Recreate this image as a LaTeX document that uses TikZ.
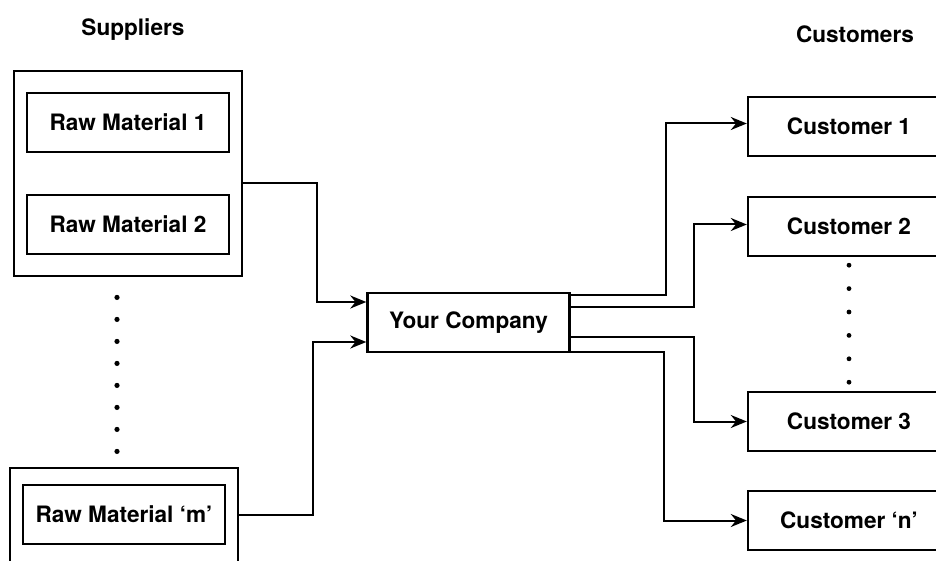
\documentclass[tikz,border=0pt]{standalone}
\usepackage{fontspec}
\setmainfont{TeX Gyre Heros}
\usetikzlibrary{positioning,fit,arrows.meta,calc}

\begin{document}
\begin{tikzpicture}[
    x=0.5pt, y=-0.5pt,
    font=\fontsize{11.3}{13}\selectfont\bfseries,
    box/.style={
        draw,
        line width=1.2pt,
        minimum width=101pt,
        minimum height=29.5pt,
        align=center
    },
    group/.style={draw, line width=1.2pt, inner xsep=6pt, inner ysep=10.5pt},
    arrow/.style={-{Stealth[length=8pt,width=6.5pt]}, line width=1pt},
    dot/.style={fill=black}
]
\useasboundingbox (0,0) rectangle (936,561);

% suppliers
\node[box] (rm1) at (128,122.5) {Raw Material 1};
\node[box, below=20.3pt of rm1] (rm2) {Raw Material 2};
\node[group, fit=(rm1) (rm2)] (sup) {};
\node (suplabel) at (133,30) {Suppliers};

\node[box, below=114.3pt of rm2, xshift=-2pt] (rmm) {Raw Material `m'};
\coordinate (rmmlow) at ([yshift=-20pt]rmm.south);
\node[group, inner ysep=8pt, fit=(rmm) (rmmlow)] (supm) {};

\foreach \k in {0,...,7}
    \fill[dot] ($(sup.south)+(-11,{20+22*\k})$) circle (1.3pt);

% company
\node[box] (company) at (468.5,322.5) {Your Company};

% customers
\node[box] (c1) at (849,126.5) {Customer 1};
\node[box, below=19.3pt of c1] (c2) {Customer 2};
\node[box, below=66.8pt of c2] (c3) {Customer 3};
\node[box, below=18.8pt of c3] (cn) {Customer `n'};
\node (custlabel) at (855,34) {Customers};

\foreach \k in {0,...,5}
    \fill[dot] ($(c2.south)+(0,{8+23.4*\k})$) circle (1.2pt);

% inflow
\draw[arrow] ([yshift=-5pt]sup.east) -| ([xshift=-24.5pt,yshift=10.25pt]company.west)
    -- ([yshift=10.25pt]company.west);
\draw[arrow] (rmm -| supm.east) -| ([xshift=-26.5pt,yshift=-9.75pt]company.west)
    -- ([yshift=-9.75pt]company.west);

% outflow
\draw[arrow] ([yshift=14pt]company.east) -| ([xshift=-40.5pt,yshift=1.5pt]c1.west)
    -- ([yshift=1.5pt]c1.west);
\draw[arrow] ([yshift=7.75pt]company.east) -| ([xshift=-26.5pt,yshift=1pt]c2.west)
    -- ([yshift=1pt]c2.west);
\draw[arrow] ([yshift=-7.25pt]company.east) -| ([xshift=-26.5pt]c3.west) -- (c3.west);
\draw[arrow] ([yshift=-14.75pt]company.east) -| ([xshift=-41.5pt]cn.west) -- (cn.west);

\end{tikzpicture}
\end{document}
